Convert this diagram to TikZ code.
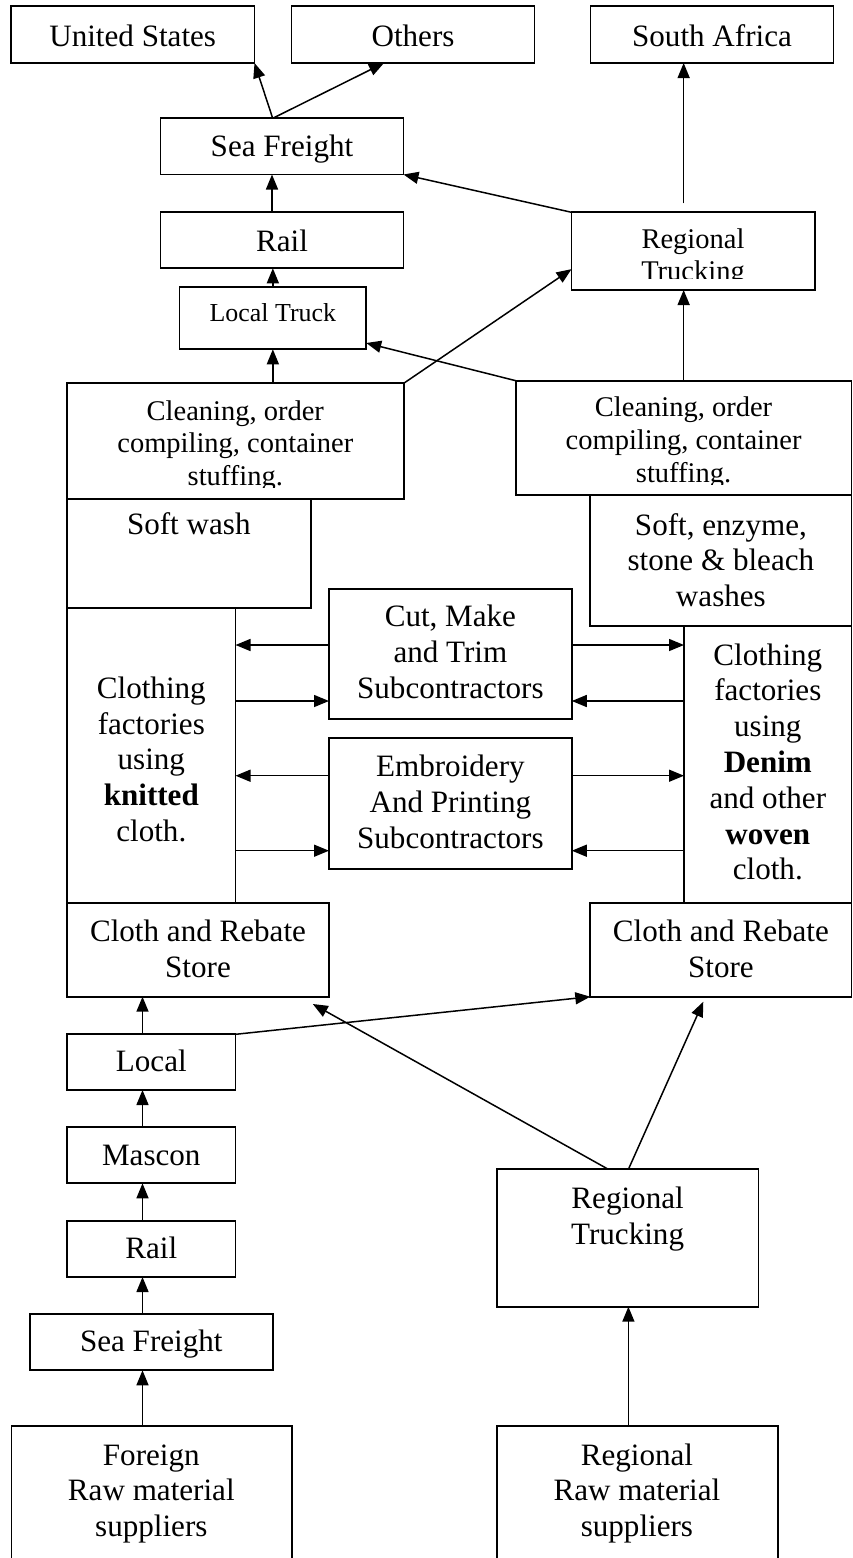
\documentclass[tikz,border=0pt]{standalone}
\usepackage{fontspec}
\setmainfont{Liberation Serif}
\usetikzlibrary{arrows.meta}
\newcommand\fA{\fontsize{31.1pt}{35.8pt}\selectfont}
\newcommand\fB{\fontsize{28.5pt}{32.8pt}\selectfont}
\newcommand\fC{\fontsize{25.9pt}{29.8pt}\selectfont}
\newcommand\bx[5]{\node[box, minimum width={(#4)-(#2)}, minimum height={(#5)-(#3)}] (#1) at (#2,#3) {};}
\begin{document}
\begin{tikzpicture}[x=1pt,y=-1pt,
  box/.style={draw, line width=1.8pt, inner sep=0pt, outer sep=0pt, anchor=north west},
  txtA/.style={font=\fA, inner sep=0pt, outer sep=0pt, align=center, anchor=north, yshift=25.06pt},
  txtB/.style={font=\fB, inner sep=0pt, outer sep=0pt, align=center, anchor=north, yshift=22.96pt},
  txtC/.style={font=\fC, inner sep=0pt, outer sep=0pt, align=center, anchor=north, yshift=20.86pt},
  arr/.style={-{Triangle[length=15pt,width=12pt]}, line width=1.5pt}]
\useasboundingbox (0,0) rectangle (853,1558);
\clip (0,0) rectangle (853,1558);
% boxes
\bx{us}{11}{6}{254.5}{63}
\bx{others}{291.5}{6}{534.5}{63}
\bx{sa}{590.5}{6}{833.5}{63}
\bx{seaT}{160.5}{118.3}{403.5}{174.5}
\bx{railT}{160.5}{212.3}{403.5}{268.3}
\bx{ltruck}{179.5}{286.7}{366.2}{349.3}
\bx{rtT}{571.5}{212.3}{815}{290}
\bx{cleanL}{67}{383.3}{403.7}{499.3}
\bx{cleanR}{515.8}{380.7}{851.5}{495.3}
\bx{softL}{67}{499.3}{310.7}{607.7}
\bx{softR}{590.3}{495.3}{851.5}{626}
\bx{clothL}{67}{607.7}{235.5}{903.3}
\bx{clothR}{684}{626}{851.5}{903.3}
\bx{cmt}{329}{588.7}{571.8}{719}
\bx{emb}{329}{737.7}{571.8}{869}
\bx{storeL}{67}{903.3}{329}{996.7}
\bx{storeR}{590.3}{903.3}{851.5}{996.7}
\bx{local}{67}{1034.3}{235.5}{1090}
\bx{mascon}{67}{1127.3}{235.5}{1183.3}
\bx{railB}{67}{1221}{235.5}{1277}
\bx{seaB}{30}{1314.3}{272.6}{1370.3}
\bx{rtB}{496.7}{1169.3}{758.4}{1306.7}
\bx{foreign}{11.5}{1426}{291.7}{1600}
\bx{regraw}{496.7}{1426}{777.7}{1600}
% texts
\node[txtA] (usT) at (132.7,46) {\strut United States};
\node[txtA] (othersT) at (413,46) {\strut Others};
\node[txtA] (saT) at (712,46) {\strut South Africa};
\node[txtA] (seaTT) at (282,156.7) {\strut Sea Freight};
\node[txtA] (railTT) at (282,251.7) {\strut Rail};
\node[txtC] (ltruckT) at (272.85,321.7) {\strut Local Truck};
\begin{scope}
\clip (571.5,212.3) rectangle (815,278.8);
\node[txtB] (rtTT) at (693,248) {\strut Regional\\Trucking};
\end{scope}
\begin{scope}
\clip (67,383.3) rectangle (403.7,487.3);
\node[txtB] (cleanLT) at (235.3,420) {\strut Cleaning, order\\compiling, container\\stuffing.};
\end{scope}
\begin{scope}
\clip (515.8,380.7) rectangle (851.5,484);
\node[txtB] (cleanRT) at (683.6,416.7) {\strut Cleaning, order\\compiling, container\\stuffing.};
\end{scope}
\node[txtA] (softLT) at (188.8,534) {\strut Soft wash};
\node[txtA] (softRT) at (720.9,535) {\strut Soft, enzyme,\\stone \& bleach\\washes};
\node[txtA] (clothLT) at (151.3,698.3) {\strut Clothing\\factories\\using\\\textbf{knitted}\\cloth.};
\node[txtA] (clothRT) at (767.8,665) {\strut Clothing\\factories\\using\\\textbf{Denim}\\and other\\\textbf{woven}\\cloth.};
\node[txtA] (cmtT) at (450.4,626.7) {\strut Cut, Make\\and Trim\\Subcontractors};
\node[txtA] (embT) at (450.4,776.7) {\strut Embroidery\\And Printing\\Subcontractors};
\node[txtA] (storeLT) at (198,941.7) {\strut Cloth and Rebate\\Store};
\node[txtA] (storeRT) at (720.9,941.7) {\strut Cloth and Rebate\\Store};
\node[txtA] (localT) at (151.3,1071.7) {\strut Local};
\node[txtA] (masconT) at (151.3,1165) {\strut Mascon};
\node[txtA] (railBT) at (151.3,1258.3) {\strut Rail};
\node[txtA] (seaBT) at (151.3,1351.7) {\strut Sea Freight};
\node[txtA] (rtBT) at (627.6,1208.3) {\strut Regional\\Trucking};
\node[txtA] (foreignT) at (151.3,1465) {\strut Foreign\\Raw material\\suppliers};
\node[txtA] (regrawT) at (636.9,1465) {\strut Regional\\Raw material\\suppliers};
% helper coordinates
\coordinate (sfN) at ([xshift=-9.3pt]seaT.north);
\path (cleanR.north |- rtT.north) ++(0,-9) coordinate (saS);
\coordinate (cmtA) at ([yshift=8.85pt]cmt.west);
\coordinate (cmtB) at ([yshift=-47.15pt]cmt.west);
\coordinate (embA) at ([yshift=27.65pt]emb.west);
\coordinate (embB) at ([yshift=-47.35pt]emb.west);
\coordinate (lN) at ([xshift=-8.75pt]local.north);
% connectors top
\draw[arr] (sfN) -- (us.south east);
\draw[arr] (sfN) -- ([xshift=-29pt]others.south);
\draw[arr] ([xshift=-10pt]railT.north) -- ([xshift=-10pt]seaT.south);
\draw[arr] (ltruck.north) -- (ltruck.north |- railT.south);
\draw[arr] (ltruck.south |- cleanL.north) -- (ltruck.south);
\draw[arr] (rtT.north west) -- (seaT.south east);
\draw[arr] (saS) -- (saS |- sa.south);
\draw[arr] (cleanR.north) -- (cleanR.north |- rtT.south);
\draw[arr] (cleanL.north east) -- ([yshift=-18pt]rtT.west);
\draw[arr] (cleanR.north west) -- ([yshift=-25pt]ltruck.east);
% side connectors
\draw[arr] (cmtA) -- (cmtA -| clothL.east);
\draw[arr] (cmtB -| clothL.east) -- (cmtB);
\draw[arr] (cmtA -| cmt.east) -- (cmtA -| clothR.west);
\draw[arr] (cmtB -| clothR.west) -- (cmtB -| cmt.east);
\draw[arr] (embA) -- (embA -| clothL.east);
\draw[arr] (embB -| clothL.east) -- (embB);
\draw[arr] (embA -| emb.east) -- (embA -| clothR.west);
\draw[arr] (embB -| clothR.west) -- (embB -| emb.east);
% bottom connectors
\draw[arr] (lN) -- (lN |- storeL.south);
\draw[arr] (lN |- mascon.north) -- (lN |- local.south);
\draw[arr] (lN |- railB.north) -- (lN |- mascon.south);
\draw[arr] (lN |- seaB.north) -- (lN |- railB.south);
\draw[arr] (lN |- foreign.north) -- (lN |- seaB.south);
\draw[arr] (local.north east) -- (storeR.south west);
\draw[arr] ([xshift=-19.25pt]rtB.north) -- ([xshift=-16.2pt,yshift=-7.3pt]storeL.south east);
\draw[arr] ([xshift=0.85pt]rtB.north) -- ([xshift=-17.6pt,yshift=-5pt]storeR.south);
\draw[arr] ([xshift=0.85pt]rtB.south |- regraw.north) -- ([xshift=0.85pt]rtB.south);
\end{tikzpicture}
\end{document}
